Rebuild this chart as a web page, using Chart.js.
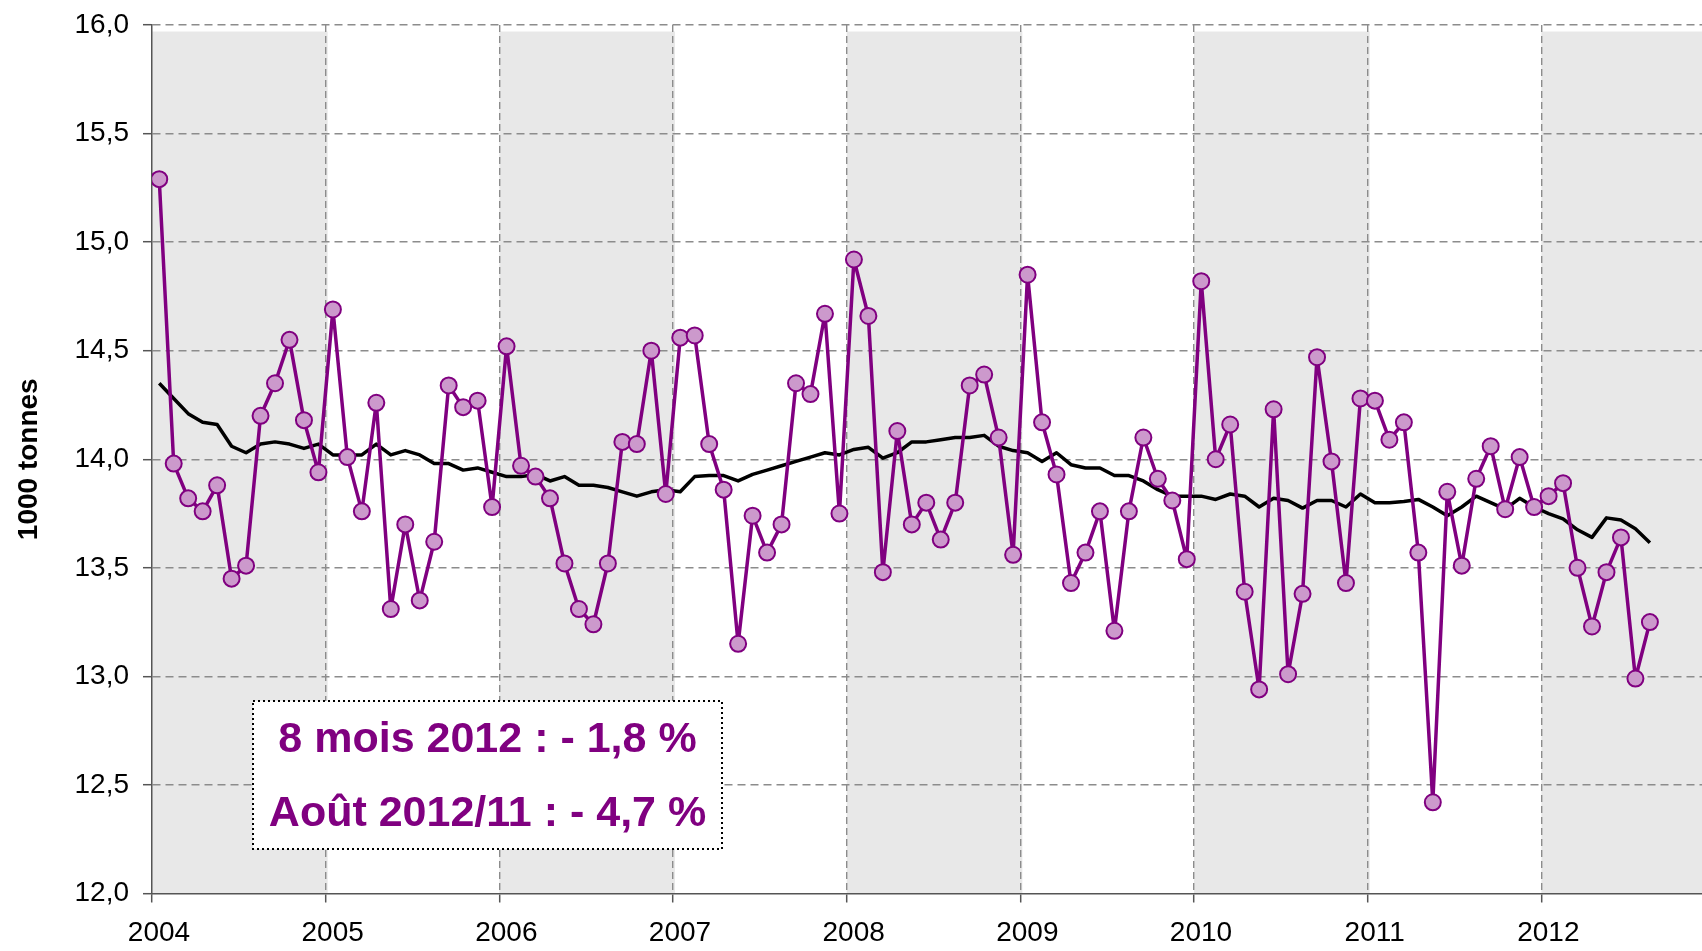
<!DOCTYPE html>
<html>
<head>
<meta charset="utf-8">
<script src="https://cdn.jsdelivr.net/npm/chart.js@4"></script>
<style>
  body { margin: 0; background: #fff; overflow: hidden; }
  #wrap { width: 1702px; height: 951px; position: relative; }
</style>
</head>
<body>
<div id="wrap"><canvas id="chart"></canvas></div>
<script>
// Données mensuelles (1000 tonnes), janvier 2004 - août 2012
const startYear = 2004;
const monthlyValues = [
    15.29, 13.98, 13.82, 13.76, 13.88, 13.45, 13.51, 14.20, 14.35, 14.55, 14.18, 13.94,
    14.69, 14.01, 13.76, 14.26, 13.31, 13.70, 13.35, 13.62, 14.34, 14.24, 14.27, 13.78,
    14.52, 13.97, 13.92, 13.82, 13.52, 13.31, 13.24, 13.52, 14.08, 14.07, 14.50, 13.84,
    14.56, 14.57, 14.07, 13.86, 13.15, 13.74, 13.57, 13.70, 14.35, 14.30, 14.67, 13.75,
    14.92, 14.66, 13.48, 14.13, 13.70, 13.80, 13.63, 13.80, 14.34, 14.39, 14.10, 13.56,
    14.85, 14.17, 13.93, 13.43, 13.57, 13.76, 13.21, 13.76, 14.10, 13.91, 13.81, 13.54,
    14.82, 14.00, 14.16, 13.39, 12.94, 14.23, 13.01, 13.38, 14.47, 13.99, 13.43, 14.28,
    14.27, 14.09, 14.17, 13.57, 12.42, 13.85, 13.51, 13.91, 14.06, 13.77, 14.01, 13.78,
    13.83, 13.89, 13.50, 13.23, 13.48, 13.64, 12.99, 13.25
];
// Moyenne mobile 12 mois
const movingAverage = [
    14.35, 14.28, 14.21, 14.17, 14.16, 14.06, 14.03, 14.07, 14.08, 14.07, 14.05, 14.07,
    14.02, 14.02, 14.02, 14.07, 14.02, 14.04, 14.02, 13.98, 13.98, 13.95, 13.96, 13.94,
    13.92, 13.92, 13.93, 13.90, 13.92, 13.88, 13.88, 13.87, 13.85, 13.83, 13.85, 13.86,
    13.85, 13.92, 13.925, 13.925, 13.90, 13.93, 13.95, 13.97, 13.99, 14.01, 14.03, 14.02,
    14.045, 14.055, 14.005, 14.03, 14.08, 14.08, 14.09, 14.10, 14.10, 14.11, 14.06, 14.04,
    14.03, 13.99, 14.03, 13.975, 13.96, 13.96, 13.925, 13.925, 13.90, 13.86, 13.83, 13.83,
    13.83, 13.815, 13.84, 13.83, 13.78, 13.82, 13.81, 13.775, 13.81, 13.81, 13.78, 13.84,
    13.80, 13.80, 13.805, 13.815, 13.78, 13.74, 13.78, 13.83, 13.80, 13.77, 13.82, 13.78,
    13.75, 13.725, 13.675, 13.64, 13.73, 13.72, 13.68, 13.615
];
const yearTicks = [2004, 2005, 2006, 2007, 2008, 2009, 2010, 2011, 2012];
const shadedYears = [2004, 2006, 2008, 2010, 2012];
const noteLines = ['8 mois 2012 : - 1,8 %', 'Août 2012/11 : - 4,7 %'];

const FONT = "'Liberation Sans', Arial, sans-serif";

// un point au milieu de chaque mois
function toPoints(arr) {
    return arr.map((v, i) => ({ x: i + 0.5, y: v }));
}

// bandes grises une année sur deux
const bandsPlugin = {
    id: 'bands',
    beforeDraw(chart) {
        const { ctx, chartArea, scales: { x, y } } = chart;
        ctx.save();
        ctx.fillStyle = '#e8e8e8';
        const top = y.getPixelForValue(15.97);
        const bottom = y.getPixelForValue(12);
        shadedYears.forEach(yr => {
            const x1 = x.getPixelForValue((yr - startYear) * 12);
            const x2 = Math.min(x.getPixelForValue((yr - startYear + 1) * 12) + 2, chartArea.right);
            ctx.fillRect(x1, top, x2 - x1, bottom - top);
        });
        ctx.restore();
    }
};

// encadré avec les variations
const notePlugin = {
    id: 'note',
    afterDraw(chart) {
        const ctx = chart.ctx;
        const left = 253, top = 701, w = 469, h = 148;
        ctx.save();
        ctx.fillStyle = '#fff';
        ctx.fillRect(left, top, w, h);
        ctx.strokeStyle = '#000';
        ctx.lineWidth = 2;
        ctx.setLineDash([2, 3]);
        ctx.strokeRect(left, top, w, h);
        ctx.setLineDash([]);
        ctx.fillStyle = '#800080';
        ctx.font = 'bold 43px ' + FONT;
        ctx.textAlign = 'center';
        ctx.textBaseline = 'middle';
        ctx.fillText(noteLines[0], left + w / 2, 740);
        ctx.fillText(noteLines[1], left + w / 2, 814);
        ctx.restore();
    }
};

const ctx = document.getElementById('chart').getContext('2d');
const chart = new Chart(ctx, {
    type: 'line',
    data: {
        datasets: [{
            label: 'Mensuel',
            data: toPoints(monthlyValues),
            borderColor: '#800080',
            borderWidth: 3.5,
            borderJoinStyle: 'round',
            pointBackgroundColor: '#cc99cc',
            pointBorderColor: '#800080',
            pointBorderWidth: 2,
            pointRadius: 8,
            tension: 0
        }, {
            label: 'Moyenne mobile',
            data: toPoints(movingAverage),
            borderColor: '#000',
            borderWidth: 3.5,
            borderJoinStyle: 'round',
            pointRadius: 0,
            tension: 0
        }]
    },
    options: {
        responsive: true,
        maintainAspectRatio: false,
        animation: false,
        layout: { autoPadding: false, padding: { top: 25, left: 0, right: 0, bottom: 0 } },
        plugins: {
            legend: { display: false },
            tooltip: { enabled: false }
        },
        scales: {
            x: {
                type: 'linear',
                min: 0,
                max: 107.1,
                afterBuildTicks: s => {
                    s.ticks = yearTicks.map(yr => ({ value: (yr - startYear) * 12 }));
                },
                afterFit: s => {
                    s.height = 57.5;
                    s.paddingLeft = 0;
                    s.paddingRight = 0;
                },
                ticks: {
                    autoSkip: false,
                    maxRotation: 0,
                    padding: 14,
                    labelOffset: 7,
                    color: '#000',
                    font: { family: FONT, size: 28 },
                    callback: v => String(startYear + v / 12)
                },
                grid: {
                    color: c => (c.tick && c.tick.value === 0) ? 'rgba(0,0,0,0)' : '#8c8c8c',
                    lineWidth: 1.4,
                    tickLength: 9,
                    tickColor: '#555',
                    tickWidth: 1.5,
                    tickBorderDash: []
                },
                border: { display: true, color: '#555', width: 1.5, dash: [7, 4] }
            },
            y: {
                min: 12,
                max: 16,
                afterFit: s => {
                    s.width = 152;
                    s.paddingTop = 0;
                    s.paddingBottom = 0;
                },
                ticks: {
                    stepSize: 0.5,
                    padding: 14,
                    color: '#000',
                    font: { family: FONT, size: 28 },
                    callback: v => v.toFixed(1).replace('.', ',')
                },
                grid: {
                    color: c => (c.tick && c.tick.value === 12) ? 'rgba(0,0,0,0)' : '#8c8c8c',
                    lineWidth: 1.4,
                    tickLength: 9,
                    tickColor: '#555',
                    tickWidth: 1.5,
                    tickBorderDash: []
                },
                border: { display: true, color: '#555', width: 1.5, dash: [8, 5] },
                title: {
                    display: true,
                    text: '1000 tonnes',
                    color: '#000',
                    font: { family: FONT, size: 28, weight: 'bold' },
                    padding: { top: 12, bottom: 0 }
                }
            }
        }
    },
    plugins: [bandsPlugin, notePlugin]
});
</script>
</body>
</html>
